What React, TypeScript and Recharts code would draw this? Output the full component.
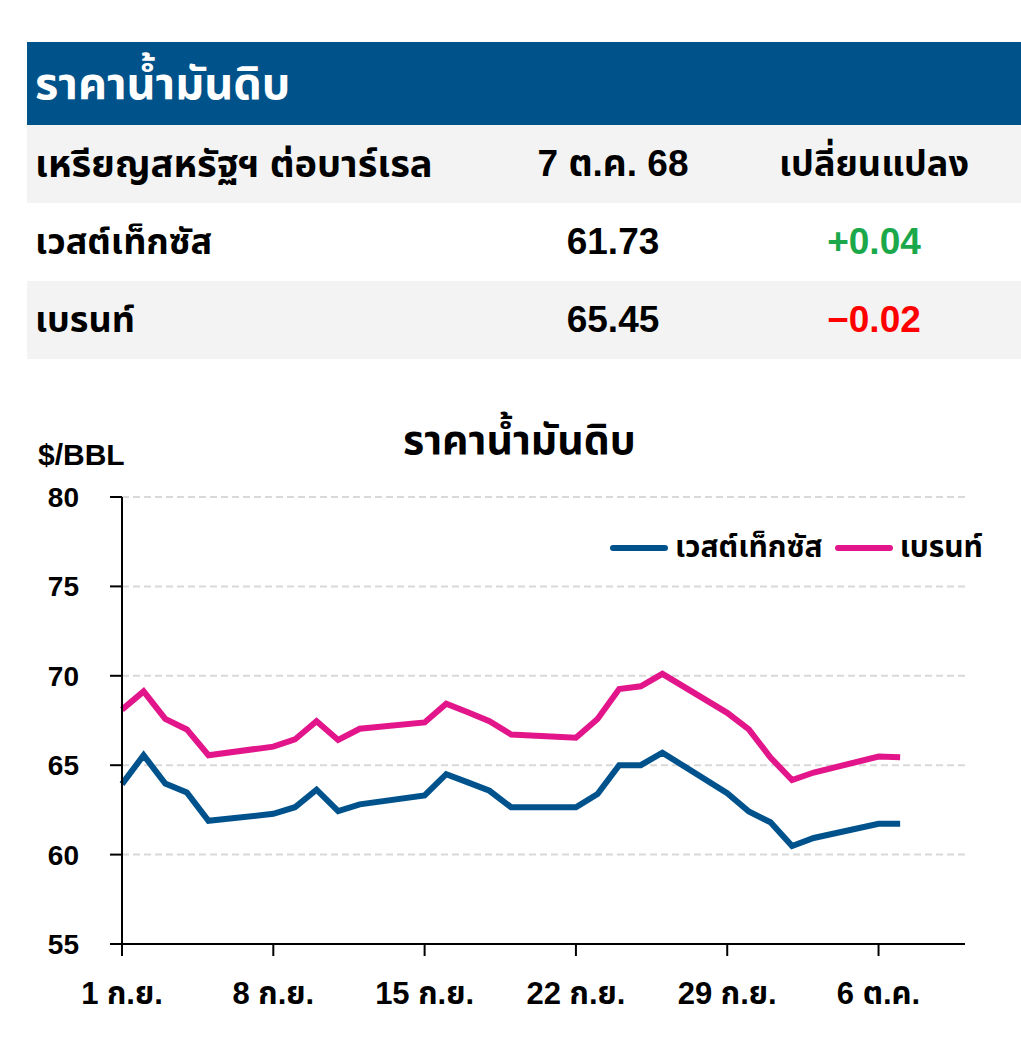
import { LineChart, Line, XAxis, YAxis, CartesianGrid, Legend } from 'recharts';

// trading days, Sep 1 - Oct 7 2025
const dates = [
  '2025-09-01', '2025-09-02', '2025-09-03', '2025-09-04', '2025-09-05',
  '2025-09-08', '2025-09-09', '2025-09-10', '2025-09-11', '2025-09-12',
  '2025-09-15', '2025-09-16', '2025-09-17', '2025-09-18', '2025-09-19',
  '2025-09-22', '2025-09-23', '2025-09-24', '2025-09-25', '2025-09-26',
  '2025-09-29', '2025-09-30', '2025-10-01', '2025-10-02', '2025-10-03',
  '2025-10-06', '2025-10-07',
];
const wti = [
  63.94, 65.56, 63.97, 63.48, 61.89,
  62.28, 62.65, 63.63, 62.43, 62.81,
  63.31, 64.5, 64.04, 63.57, 62.65,
  62.65, 63.39, 65.0, 65.0, 65.7,
  63.44, 62.41, 61.81, 60.48, 60.93,
  61.72, 61.73,
];
const brent = [
  68.11, 69.13, 67.59, 67.0, 65.56,
  66.04, 66.44, 67.46, 66.41, 67.04,
  67.39, 68.44, 67.96, 67.46, 66.72,
  66.54, 67.59, 69.26, 69.41, 70.11,
  67.93, 67.0, 65.43, 64.17, 64.59,
  65.48, 65.45,
];
const seriesNames = ['เวสต์เท็กซัส', 'เบรนท์'];
const tickDays = [0, 7, 14, 21, 28, 35];
const tickLabels = ['1 ก.ย.', '8 ก.ย.', '15 ก.ย.', '22 ก.ย.', '29 ก.ย.', '6 ต.ค.'];
const yTicks = [55, 60, 65, 70, 75, 80];

const headerCols = ['เหรียญสหรัฐฯ ต่อบาร์เรล', '7 ต.ค. 68', 'เปลี่ยนแปลง'];
const rowNames = ['เวสต์เท็กซัส', 'เบรนท์'];
const rowPrices = ['61.73', '65.45'];
const rowChanges = ['+0.04', '−0.02'];

const FONT = '"Liberation Sans", Arial, "Noto Sans Thai", "Noto Sans", sans-serif';
const BLUE = '#00528c';
const PINK = '#e2168a';

const start = Date.parse(dates[0]);
const data = dates.map((d, i) => ({
  day: Math.round((Date.parse(d) - start) / 86400000),
  wti: wti[i],
  brent: brent[i],
}));

const cell: React.CSSProperties = {
  position: 'absolute',
  fontWeight: 700,
  fontSize: 37,
  lineHeight: '78px',
  whiteSpace: 'nowrap',
};

function LegendContent() {
  const colors = [BLUE, PINK];
  return (
    <div style={{ display: 'flex', alignItems: 'center', fontFamily: FONT, fontWeight: 700, fontSize: 30, whiteSpace: 'nowrap' }}>
      {seriesNames.map((n, i) => (
        <div key={n} style={{ display: 'flex', alignItems: 'center', marginRight: 12 }}>
          <div style={{ width: 58, height: 6, borderRadius: 3, background: colors[i], marginRight: 7 }} />
          <span>{n}</span>
        </div>
      ))}
    </div>
  );
}

export default function App() {
  return (
    <div style={{ position: 'absolute', left: 0, top: 0, width: 1021, height: 1061, background: '#fff', fontFamily: FONT, color: '#000' }}>
      {/* table */}
      <div style={{ position: 'absolute', left: 27, top: 42, width: 994, height: 83, background: '#00528a' }}>
        <div style={{ ...cell, left: 8, top: 0, lineHeight: '83px', fontSize: 45, color: '#fff' }}>ราคาน้ำมันดิบ</div>
      </div>
      <div style={{ position: 'absolute', left: 27, top: 125, width: 994, height: 78, background: '#f3f3f3' }}>
        <div style={{ ...cell, left: 8, fontSize: 38 }}>{headerCols[0]}</div>
        <div style={{ ...cell, left: 586, transform: 'translateX(-50%)' }}>{headerCols[1]}</div>
        <div style={{ ...cell, left: 847, transform: 'translateX(-50%)', fontSize: 36 }}>{headerCols[2]}</div>
      </div>
      {rowNames.map((n, i) => (
        <div key={n} style={{ position: 'absolute', left: 27, top: 203 + i * 78, width: 994, height: 78, background: i % 2 ? '#f3f3f3' : '#fff' }}>
          <div style={{ ...cell, left: 8, fontSize: 36 }}>{n}</div>
          <div style={{ ...cell, left: 586, transform: 'translateX(-50%)' }}>{rowPrices[i]}</div>
          <div style={{ ...cell, left: 847, transform: 'translateX(-50%)', color: i === 0 ? '#1aa84a' : '#ff0000' }}>{rowChanges[i]}</div>
        </div>
      ))}

      {/* chart */}
      <div style={{ position: 'absolute', left: 403, top: 410, fontWeight: 700, fontSize: 41, whiteSpace: 'nowrap' }}>
        ราคาน้ำมันดิบ
      </div>
      <div style={{ position: 'absolute', left: 38, top: 438, fontWeight: 700, fontSize: 30 }}>$/BBL</div>
      <div style={{ position: 'absolute', left: 0, top: 380 }}>
        <LineChart width={1021} height={680} data={data} margin={{ top: 117, right: 56, left: 62, bottom: 56 }}>
          <CartesianGrid horizontal vertical={false} stroke="#d9d9d9" strokeWidth={2} strokeDasharray="7 4" />
          <XAxis
            dataKey="day"
            type="number"
            domain={[0, 39]}
            ticks={tickDays}
            tickFormatter={(v: number) => tickLabels[tickDays.indexOf(v)] ?? ''}
            axisLine={{ stroke: '#000', strokeWidth: 2 }}
            tickLine={{ stroke: '#000', strokeWidth: 2 }}
            tickSize={12}
            tickMargin={26}
            height={60}
            tick={{ fill: '#000', fontSize: 31, fontWeight: 700, fontFamily: FONT }}
          />
          <YAxis
            type="number"
            domain={[55, 80]}
            ticks={yTicks}
            axisLine={{ stroke: '#000', strokeWidth: 2 }}
            tickLine={{ stroke: '#000', strokeWidth: 2 }}
            tickSize={12}
            tickMargin={31}
            width={60}
            tick={{ fill: '#000', fontSize: 28, fontWeight: 700, fontFamily: FONT }}
          />
          <Legend
            layout="horizontal"
            verticalAlign="middle"
            align="center"
            content={<LegendContent />}
            wrapperStyle={{ top: 145, left: 610, width: 'auto' }}
          />
          <Line
            type="linear"
            dataKey="wti"
            name={seriesNames[0]}
            stroke={BLUE}
            strokeWidth={6}
            dot={false}
            isAnimationActive={false}
          />
          <Line
            type="linear"
            dataKey="brent"
            name={seriesNames[1]}
            stroke={PINK}
            strokeWidth={6}
            dot={false}
            isAnimationActive={false}
          />
        </LineChart>
      </div>
    </div>
  );
}
